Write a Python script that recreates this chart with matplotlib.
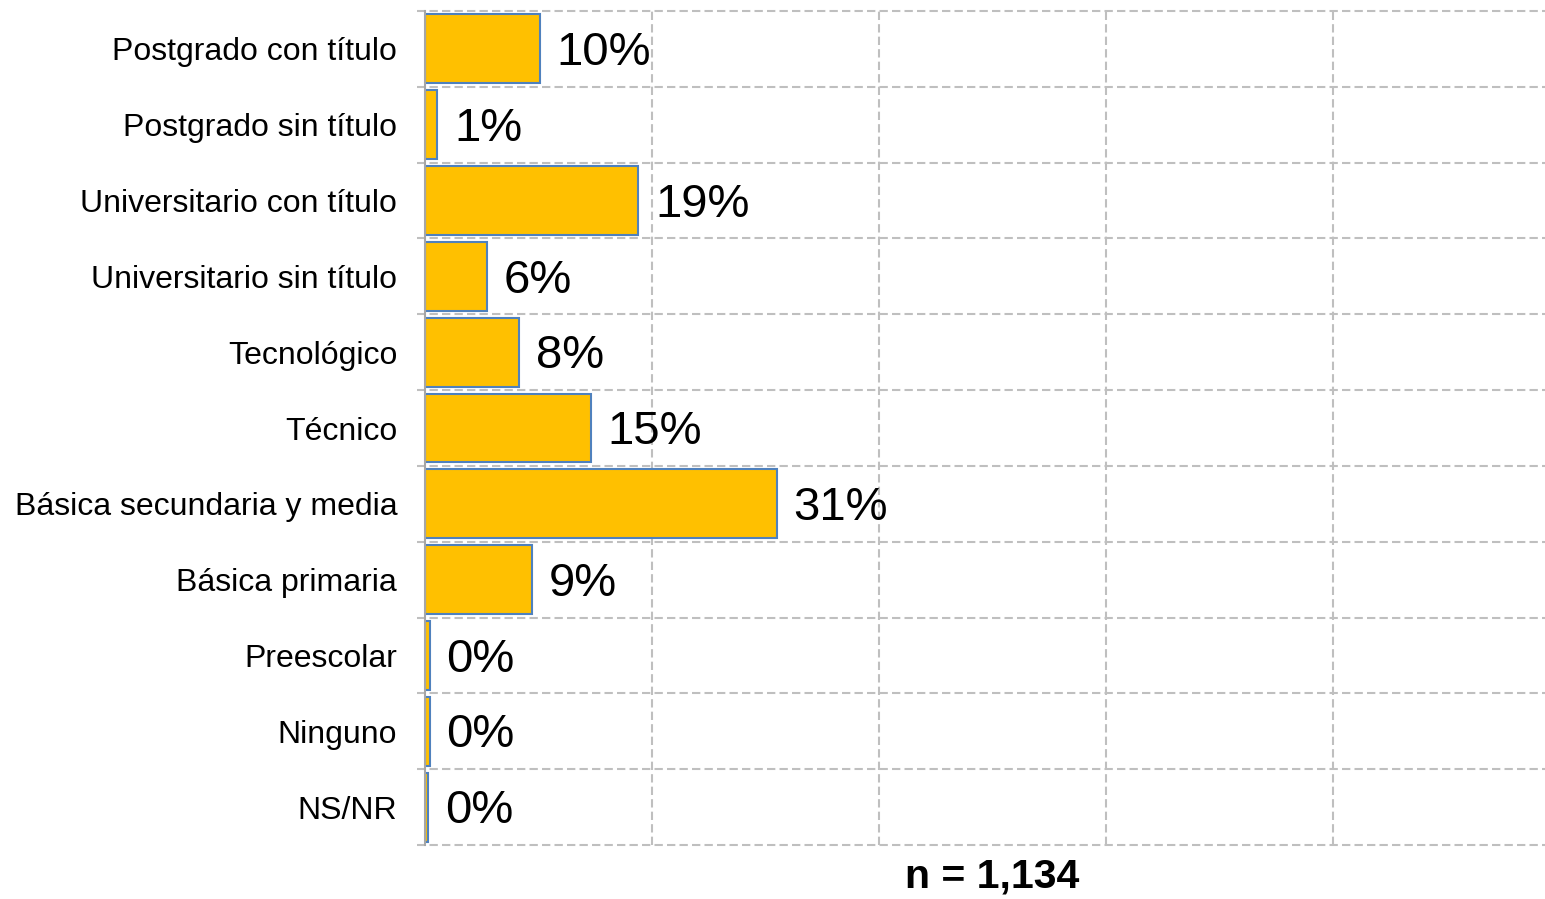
import numpy as np
import matplotlib.pyplot as plt
import matplotlib.transforms as mtransforms

plt.rcParams['font.family'] = ['Liberation Sans', 'DejaVu Sans']

categorias = ['Postgrado con título', 'Postgrado sin título', 'Universitario con título',
              'Universitario sin título', 'Tecnológico', 'Técnico',
              'Básica secundaria y media', 'Básica primaria', 'Preescolar',
              'Ninguno', 'NS/NR']
porcentajes = [10.1, 1.1, 18.8, 5.5, 8.3, 14.6, 31.0, 9.4, 0.4, 0.4, 0.3]
ticks_x = [20, 40, 60, 80]
n_total = '1,134'

W, H = 1545, 899
fig = plt.figure(figsize=(W / 100, H / 100), dpi=100)
ax = fig.add_axes([425 / W, 1 - 845 / H, 1 - 425 / W, (845 - 11) / H])

pos = np.arange(len(categorias))
ax.barh(pos, porcentajes, height=0.91, color='#FFC000', edgecolor='#4F81BD', linewidth=1.5, zorder=3)
ax.set_ylim(len(categorias) - 0.5, -0.5)
ax.set_xlim(0, 98.7)

# gridlines: dashed grey, horizontal ones between categories reaching a bit past the axis
grid_kw = dict(color='#BFBFBF', linewidth=1.5, linestyle=(0, (4, 2)))
for x in ticks_x:
    ax.axvline(x, zorder=1, **grid_kw)
trans = mtransforms.blended_transform_factory(ax.transAxes, ax.transData)
for y in np.arange(-0.5, len(categorias), 1.0):
    ax.plot([-8 / 1120, 1], [y, y], transform=trans, clip_on=False, zorder=1, **grid_kw)

for s in ['top', 'right', 'bottom']:
    ax.spines[s].set_visible(False)
ax.spines['left'].set_color('#A6A6A6')
ax.spines['left'].set_linewidth(1.5)
ax.spines['left'].set_zorder(4)

ax.set_xticks([])
ax.set_yticks(pos)
ax.set_yticklabels(categorias, fontsize=23)
ax.tick_params(axis='y', length=0, pad=20)

for p, v in zip(pos, porcentajes):
    ax.annotate(f'{v:.0f}%', xy=(v, p), xytext=(12, -3), textcoords='offset points',
                ha='left', va='center', fontsize=34, zorder=5)

fig.text(992 / W, 1 - 876 / H, f'n = {n_total}', ha='center', va='center',
         fontsize=29.5, fontweight='bold')

fig.savefig('out.png', dpi=100)
